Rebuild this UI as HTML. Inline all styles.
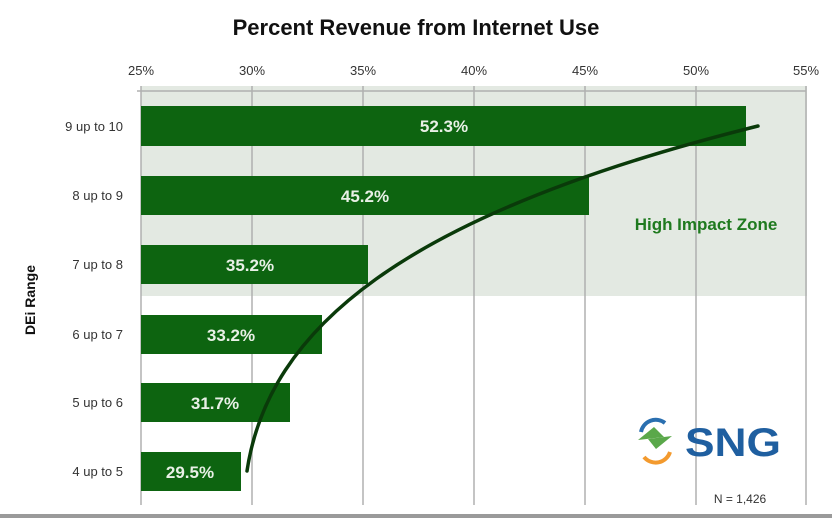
<!DOCTYPE html>
<html><head><style>
body{margin:0;background:#fff;width:832px;height:526px;overflow:hidden;font-family:"Liberation Sans",sans-serif}
</style></head><body>
<svg width="832" height="526" xmlns="http://www.w3.org/2000/svg" font-family="Liberation Sans, sans-serif">
<rect x="0" y="0" width="832" height="526" fill="#fff"/>
<text x="416" y="35" text-anchor="middle" font-size="22" font-weight="bold" fill="#111">Percent Revenue from Internet Use</text>
<rect x="141" y="86" width="666" height="210" fill="#e3e9e2"/>
<g stroke="#b0b0b0" stroke-width="1.5">
<line x1="141" y1="86" x2="141" y2="505"/><line x1="252" y1="86" x2="252" y2="505"/>
<line x1="363" y1="86" x2="363" y2="505"/><line x1="474" y1="86" x2="474" y2="505"/>
<line x1="585" y1="86" x2="585" y2="505"/><line x1="696" y1="86" x2="696" y2="505"/>
<line x1="806" y1="86" x2="806" y2="505"/>
<line x1="137" y1="91" x2="806" y2="91"/>
</g>
<g font-size="13" fill="#333" text-anchor="middle">
<text x="141" y="75">25%</text><text x="252" y="75">30%</text><text x="363" y="75">35%</text>
<text x="474" y="75">40%</text><text x="585" y="75">45%</text><text x="696" y="75">50%</text><text x="806" y="75">55%</text>
</g>
<g fill="#0d6410">
<rect x="141" y="106" width="605" height="40"/>
<rect x="141" y="176" width="448" height="39"/>
<rect x="141" y="245" width="227" height="39"/>
<rect x="141" y="315" width="181" height="39"/>
<rect x="141" y="383" width="149" height="39"/>
<rect x="141" y="452" width="100" height="39"/>
</g>
<g font-size="17" font-weight="bold" fill="#e8f0e6" text-anchor="middle">
<text x="444" y="132">52.3%</text><text x="365" y="202">45.2%</text><text x="250" y="271">35.2%</text>
<text x="231" y="341">33.2%</text><text x="215" y="409">31.7%</text><text x="190" y="478">29.5%</text>
</g>
<g font-size="13" fill="#333" text-anchor="end">
<text x="123" y="131">9 up to 10</text><text x="123" y="200">8 up to 9</text><text x="123" y="269">7 up to 8</text>
<text x="123" y="339">6 up to 7</text><text x="123" y="407">5 up to 6</text><text x="123" y="476">4 up to 5</text>
</g>
<text transform="translate(35,300) rotate(-90)" text-anchor="middle" font-size="14" font-weight="bold" fill="#111">DEi Range</text>
<path d="M247,471 C268,330 400,215 758,126" fill="none" stroke="#0a3a0a" stroke-width="3.5" stroke-linecap="round"/>
<text x="706" y="230" text-anchor="middle" font-size="17" font-weight="bold" fill="#1f7a1f">High Impact Zone</text>
<g>
<path d="M641,432 a15,15 0 0 1 24,-9" fill="none" stroke="#2a6fb0" stroke-width="4"/>
<path d="M638,440 l16,-13 l10,10 z" fill="#5aa84a"/>
<path d="M670,452 a15,15 0 0 1 -26,5" fill="none" stroke="#f39a2e" stroke-width="4"/>
<path d="M672,436 l-16,13 l-8,-10 z" fill="#5aa84a"/>
<text x="733" y="456" text-anchor="middle" font-size="40" font-weight="bold" fill="#1f5fa0" textLength="96" lengthAdjust="spacingAndGlyphs">SNG</text>
</g>
<text x="740" y="503" text-anchor="middle" font-size="12" fill="#333">N = 1,426</text>
<rect x="0" y="514" width="832" height="4" fill="#9a9a9a"/>
</svg>
</body></html>
